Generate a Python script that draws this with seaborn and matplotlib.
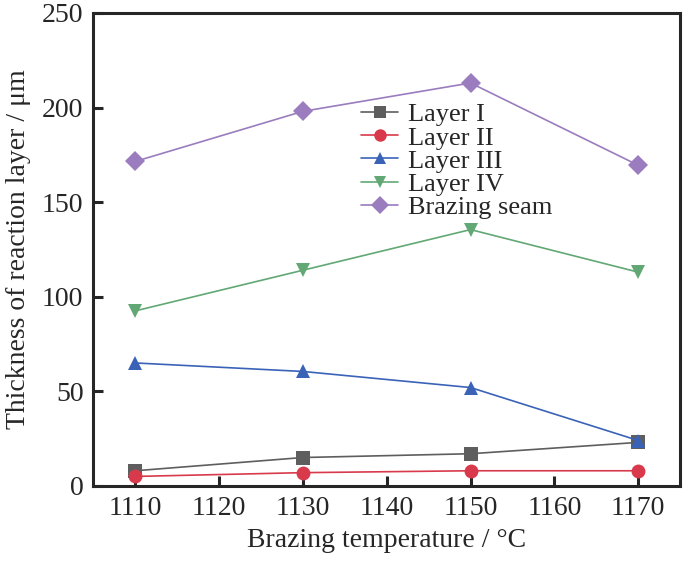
import pandas as pd
import seaborn as sns
import matplotlib.pyplot as plt

# brazing temperatures and measured thicknesses (um)
temps = [1110, 1130, 1150, 1170]
layer_1 = [8, 15, 17, 23]
layer_2 = [5, 7, 8, 8]
layer_3 = [65, 60.5, 52, 24]
layer_4 = [92.5, 114, 135.5, 113]
seam = [171.5, 198, 213, 169.5]
series_names = ['Layer I', 'Layer II', 'Layer III', 'Layer IV', 'Brazing seam']

colors = ['#5e5e5e', '#d93a4b', '#3a63b8', '#62a874', '#9a7cbf']
marks = ['s', 'o', '^', 'v', 'D']

df = pd.DataFrame({
    'temp': temps * 5,
    'thick': layer_1 + layer_2 + layer_3 + layer_4 + seam,
    'layer': [n for n in series_names for _ in temps],
})

sns.set_style('ticks')
plt.rcParams['font.family'] = ['Liberation Serif', 'DejaVu Serif']

fig = plt.figure(figsize=(6.85, 5.65), dpi=100)
ax = fig.add_axes([0.136, 0.140, 0.857, 0.837])

sns.lineplot(data=df, x='temp', y='thick', hue='layer', style='layer',
             hue_order=series_names, style_order=series_names,
             palette=dict(zip(series_names, colors)),
             markers=dict(zip(series_names, marks)), dashes=False,
             markersize=10, markeredgewidth=0, linewidth=1.2, ax=ax)

ax.set_xlim(1105, 1175)
ax.set_ylim(0, 250)
ax.set_xticks(range(1110, 1171, 10))
ax.set_yticks(range(0, 251, 50))
ax.tick_params(direction='in', length=7, width=2.2, labelsize=20, pad=7,
               top=False, right=False)
for sp in ax.spines.values():
    sp.set_linewidth(2.2)
    sp.set_visible(True)

ax.set_xlabel('Brazing temperature / °C', fontsize=20, labelpad=5)
ax.set_ylabel('Thickness of reaction layer / μm', fontsize=20, labelpad=8)

leg = ax.legend(loc='upper left', bbox_to_anchor=(0.457, 0.81), frameon=False,
                fontsize=19, handlelength=1.4, handletextpad=0.35,
                labelspacing=-0.01, borderaxespad=0, borderpad=0)
for h in leg.legend_handles:
    h.set_markersize(9)

fig.savefig('out.png', dpi=100)
